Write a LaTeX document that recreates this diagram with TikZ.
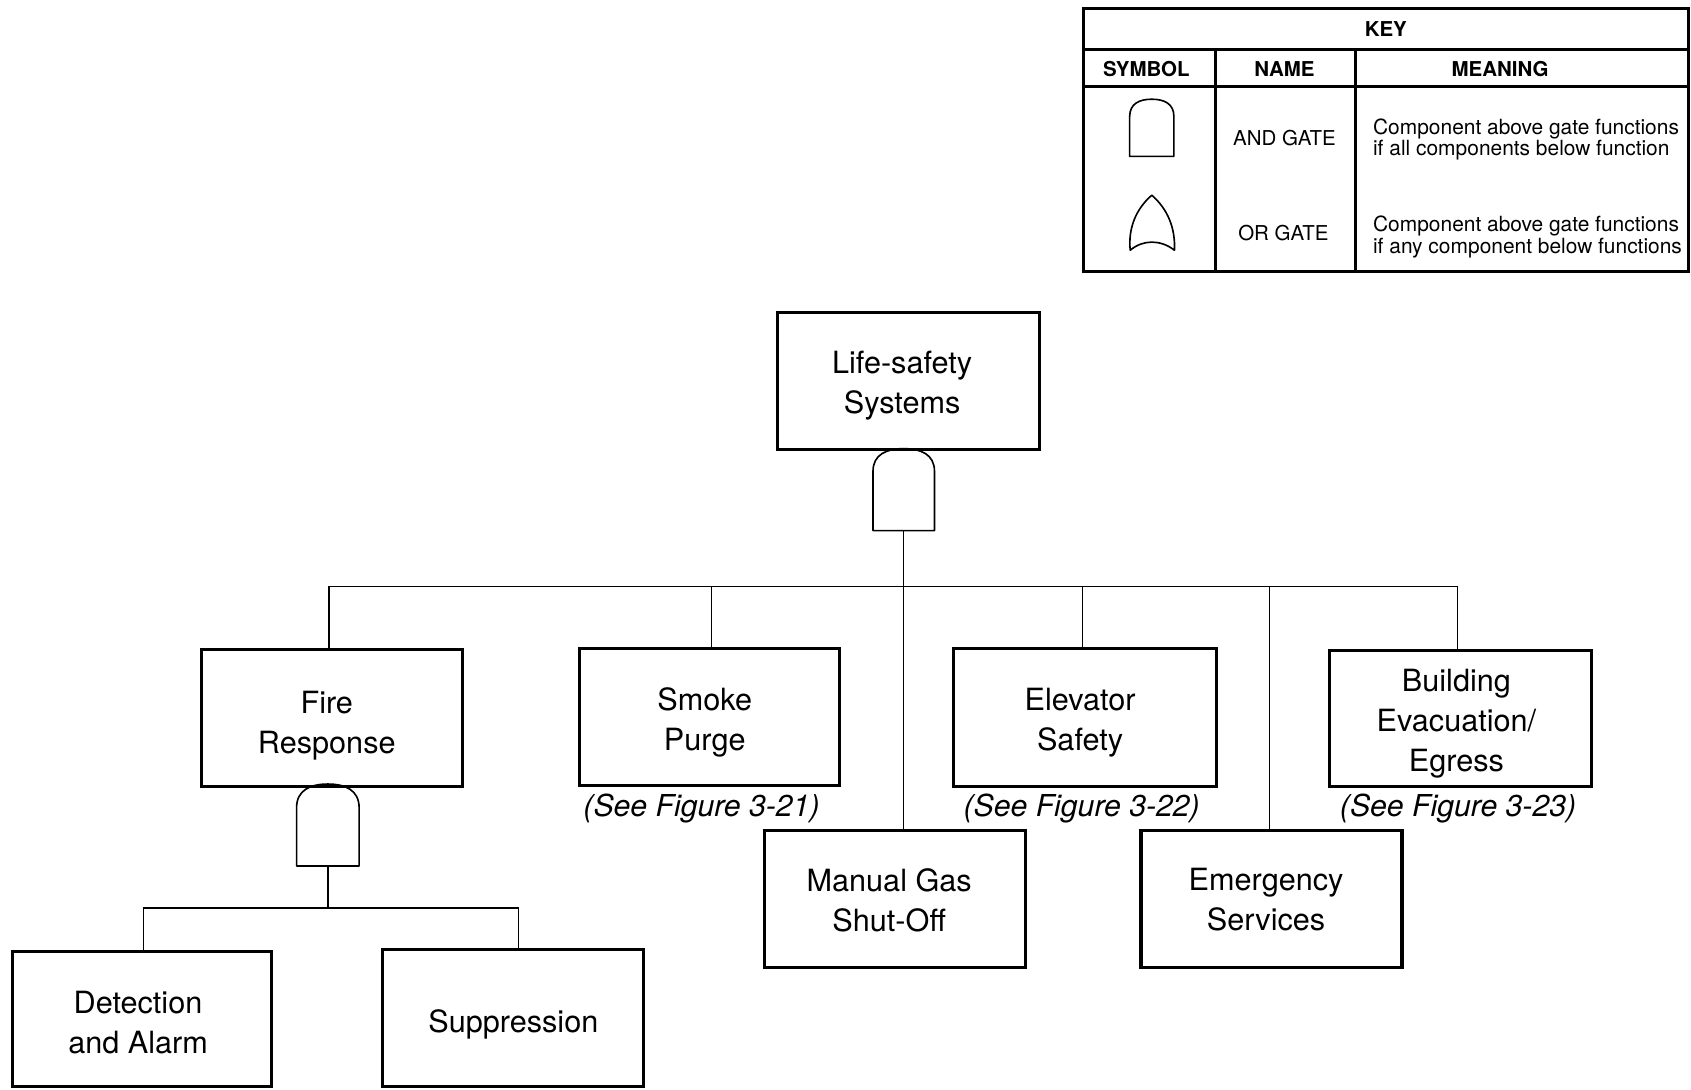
\documentclass[tikz,border=0pt]{standalone}
\usepackage{fontspec}
\setmainfont{TeX Gyre Heros}
\begin{document}
\begin{tikzpicture}[x=1pt,y=-1pt,
  box/.style={draw,line width=2.8pt,inner sep=0pt},
  boxtxt/.style={inner sep=0pt,align=center,font=\fontsize{28.4}{37}\selectfont},
  seefig/.style={inner sep=0pt,font=\fontsize{28}{32}\itshape},
  conn/.style={line width=1.3pt},
  gateline/.style={line width=1.5pt,line join=round},
  keyhead/.style={inner sep=0pt,font=\fontsize{19}{20}\bfseries\selectfont},
  keytxt/.style={inner sep=0pt,font=\fontsize{19}{20}\selectfont},
  keymean/.style={inner sep=0pt,align=left,anchor=west,font=\fontsize{19.4}{20}\selectfont}]
\useasboundingbox (0,0) rectangle (1568,1010);
\newcommand\drawandgate[6]{%
  \draw[gateline] (#2-#4,#6) -- (#2-#4,#3+#5)
    .. controls (#2-#4,#3+0.25*#5) and (#2-0.55*#4,#3) .. (#2,#3)
    .. controls (#2+0.55*#4,#3) and (#2+#4,#3+0.25*#5) .. (#2+#4,#3+#5)
    -- (#2+#4,#6) -- cycle;
  \coordinate (#1) at (#2,#6);}

% boxes
\node[box,minimum width=243,minimum height=127] (top) at (842.5,353.5) {};
\node[box,minimum width=242,minimum height=127] (fire) at (308,665.5) {};
\node[box,minimum width=241,minimum height=127] (smoke) at (657.5,664.5) {};
\node[box,minimum width=244,minimum height=128] (elev) at (1006,665) {};
\node[box,minimum width=243,minimum height=126] (bld) at (1354.5,666) {};
\node[box,minimum width=242,minimum height=127] (mgas) at (830,833.5) {};
\node[box,minimum width=242,minimum height=127] (emerg) at (1179,833.5) {};
\node[box,minimum width=240,minimum height=125] (det) at (132,944.5) {};
\node[box,minimum width=242,minimum height=127] (supp) at (476,943.5) {};

\node[boxtxt] (topt) at ([shift={(-6,4)}]top.center) {Life-safety\\Systems};
\node[boxtxt] (firet) at ([shift={(-5,7)}]fire.center) {Fire\\Response};
\node[boxtxt] (smoket) at ([shift={(-4,5)}]smoke.center) {Smoke\\Purge};
\node[boxtxt] (elevt) at ([shift={(-4.5,5)}]elev.center) {Elevator\\Safety};
\node[boxtxt] (bldt) at ([shift={(-4,5)}]bld.center) {Building\\Evacuation/\\Egress};
\node[boxtxt] (mgast) at ([shift={(-5.5,1)}]mgas.center) {Manual Gas\\Shut-Off};
\node[boxtxt] (emergt) at ([shift={(-5,1)}]emerg.center) {Emergency\\Services};
\node[boxtxt] (dett) at ([shift={(-4,4)}]det.center) {Detection\\and Alarm};
\node[boxtxt] (suppt) at ([shift={(0,6)}]supp.center) {Suppression};

\node[seefig] (sf1) at (650.5,750) {(See Figure 3-21)};
\node[seefig] (sf2) at (1003,750) {(See Figure 3-22)};
\node[seefig] (sf3) at (1352,750) {(See Figure 3-23)};

% gates
\drawandgate{g1b}{838}{416}{28.5}{21}{492}
\drawandgate{g2b}{304}{727}{29}{22}{803}

% connectors
\coordinate (bus) at (838,544);
\coordinate (bus2) at (304,842);
\draw[conn] (g1b) -- (g1b |- mgas.north);
\draw[conn] ([xshift=-3pt]fire.north) |- ([xshift=-3pt]bld.north |- bus) -- ([xshift=-3pt]bld.north);
\draw[conn] ([xshift=2.5pt]smoke.north) -- ([xshift=2.5pt]smoke.north |- bus);
\draw[conn] ([xshift=-2pt]elev.north) -- ([xshift=-2pt]elev.north |- bus);
\draw[conn] ([xshift=-2pt]emerg.north) -- ([xshift=-2pt]emerg.north |- bus);
\draw[conn] (g2b) -- (g2b |- bus2);
\draw[conn] ([xshift=1pt]det.north) |- ([xshift=5pt]supp.north |- bus2) -- ([xshift=5pt]supp.north);

% key table
\draw[line width=3pt] (1005,8) rectangle (1566,252);
\draw[line width=2.4pt] (1005,46) -- (1566,46);
\draw[line width=3pt] (1005,80) -- (1566,80);
\draw[line width=2.4pt] (1127,46) -- (1127,252);
\draw[line width=3pt] (1257,46) -- (1257,252);
\node[keyhead] (kkey) at (1285,27) {KEY};
\node[keyhead] (ksym) at (1063,64) {SYMBOL};
\node[keyhead] (kname) at (1191,64) {NAME};
\node[keyhead] (kmean) at (1391,64) {MEANING};
\node[keytxt] (kand) at (1191,128) {AND GATE};
\node[keytxt] (kor) at (1190,216) {OR GATE};
\node[keymean] (kandm) at (1273,129.5) {Component above gate functions\\if all components below function};
\node[keymean] (korm) at (1273,219.5) {Component above gate functions\\if any component below functions};
\drawandgate{kandb}{1068}{92}{20.5}{16}{145}
\draw[gateline] (1068,181) .. controls (1053,194) and (1046,212) .. (1048,232)
  .. controls (1060,222) and (1076,222) .. (1089,232)
  .. controls (1090,212) and (1083,194) .. cycle;
\end{tikzpicture}
\end{document}
